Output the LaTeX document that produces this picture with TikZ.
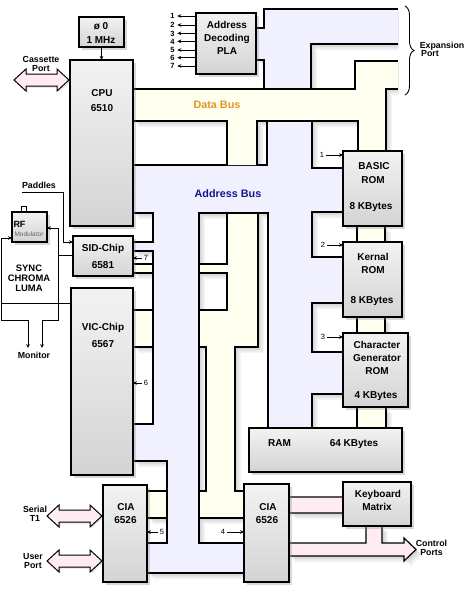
\documentclass[tikz,border=0pt]{standalone}
\usepackage{fontspec}
\setmainfont{Liberation Sans}
\usetikzlibrary{arrows.meta,shadows,decorations.pathreplacing,calc}
\definecolor{addr}{RGB}{240,240,255}
\definecolor{dbus}{RGB}{255,255,240}
\definecolor{pinkf}{RGB}{255,236,240}
\definecolor{dbtxt}{RGB}{224,150,40}
\definecolor{abtxt}{RGB}{20,20,140}
\tikzset{
 ln/.style={line width=1.2pt, line join=miter},
 thinln/.style={line width=0.9pt},
 chip/.style={draw, line width=1.2pt, top color=black!5, bottom color=black!17, inner sep=0pt, outer sep=0pt,
   drop shadow={shadow xshift=2.5pt,shadow yshift=-2.5pt,opacity=.3}},
 lbl/.style={font=\bfseries\fontsize{10}{12}\selectfont, inner sep=0pt, text height=7.2pt, text depth=0pt},
 sml/.style={font=\bfseries\fontsize{8.8}{10}\selectfont, inner sep=0pt, text height=6.3pt, text depth=0pt},
 num/.style={font=\fontsize{7.5}{9}\selectfont, inner sep=0pt, text height=5.4pt, text depth=0pt},
 bnum/.style={font=\bfseries\fontsize{7.5}{9}\selectfont, inner sep=0pt, text height=5.4pt, text depth=0pt},
 arr/.style={thinln, -{Stealth[length=4pt,width=3.6pt]}},
 darr/.style={thinln, {Stealth[length=4pt,width=3.6pt]}-{Stealth[length=4pt,width=3.6pt]}},
 fat/.style={draw, line width=1pt, line join=miter, fill=pinkf, drop shadow={shadow xshift=1.5pt,shadow yshift=-1.5pt,opacity=.2}},
}
\newcommand\mkchip[5]{\node[chip, minimum width={#4-#2}, minimum height={#5-#3}] (#1) at ({(#2+#4)/2},{(#3+#5)/2}) {};}
\newcommand\fatarrow[4]{%
 \path[fat] (#1,#3) -- ++(12,-11) -- ++(0,5) -- (#2-12,#3-6) -- ++(0,-5) -- (#2,#3) -- ++(-12,11) -- ++(0,-5) -- (#1+12,#3+6) -- ++(0,5) -- cycle;
 \coordinate (#4) at ({(#1+#2)/2},#3);}
\def\addrmain{(133,165) -- (267,165) -- (267,121) -- (312,121) -- (312,168) -- (343,168) -- (343,212)
 -- (312,212) -- (312,257) -- (343,257) -- (343,303) -- (312,303) -- (312,352) -- (343,352) -- (343,394)
 -- (312,394) -- (312,428) -- (268,428) -- (268,213) -- (199,213) -- (199,543) -- (244,543) -- (244,573)
 -- (147,573) -- (147,543) -- (167,543) -- (167,461) -- (133,461) -- (133,424) -- (153,424) -- (153,251)
 -- (133,251) -- (133,242) -- (153,242) -- (153,213) -- (133,213) -- cycle}
\def\addrtop{(256,28) -- (264,28) -- (264,9) -- (398,9) -- (398,44) -- (311,44) -- (311,89) -- (264,89) -- (264,60) -- (256,60) -- cycle}
\def\dbmain{(133,89) -- (355,89) -- (355,61) -- (398,61) -- (398,89) -- (386,89) -- (386,151) -- (358,151)
 -- (358,121) -- (257,121) -- (257,165) -- (227,165) -- (227,121) -- (133,121) -- cycle}
\def\dbcentre{(199,264) -- (227,264) -- (227,213) -- (258,213) -- (258,347) -- (235,347) -- (235,491)
 -- (244,491) -- (244,518) -- (199,518) -- (199,491) -- (206,491) -- (206,347) -- (199,347) -- (199,310)
 -- (227,310) -- (227,273) -- (199,273) -- cycle}
\def\dbsmall{(133,264) rectangle (153,273) (133,310) rectangle (153,347) (147,491) rectangle (167,518)
 (357,226) rectangle (385,242) (357,317) rectangle (385,333) (357,407) rectangle (386,428)}
\def\pinks{(289,497) rectangle (343,513) (289,543) -- (366,543) -- (366,526) -- (382,526) -- (382,543) -- (404,543) -- (404,538)
 -- (416,549.5) -- (404,561) -- (404,556) -- (289,556) -- cycle}
\begin{document}
\begin{tikzpicture}[x=1pt,y=-1pt]
\fill[white] (0,0) rectangle (466,590);
\useasboundingbox (0,0) rectangle (466,590);

% ---------- soft shadows of the bus shapes ----------
\begin{scope}
\clip (0,0) rectangle (398.6,590);
\foreach \s in {1.5,3,4.5,6}{
  \fill[black,opacity=0.045,shift={(\s,\s)}] \addrmain;
  \fill[black,opacity=0.045,shift={(\s,\s)}] \addrtop;
  \fill[black,opacity=0.045,shift={(\s,\s)}] \dbmain;
  \fill[black,opacity=0.045,shift={(\s,\s)}] \dbcentre;
  \fill[black,opacity=0.045,shift={(\s,\s)}] \dbsmall;
}
\end{scope}
\foreach \s in {1.5,3,4.5,6}{
  \fill[black,opacity=0.045,shift={(\s,\s)}] \pinks;
}

% ---------- address bus (main) ----------
\filldraw[ln,fill=addr] \addrmain;
% ---------- address bus (top, PLA / expansion) ----------
\fill[addr] \addrtop;
\draw[ln] (256,28) -- (264,28) -- (264,9) -- (398,9);
\draw[ln] (398,44) -- (311,44) -- (311,89);
\draw[ln] (264,89) -- (264,60) -- (256,60);

% ---------- data bus ----------
\fill[dbus] \dbmain;
\draw[ln] (133,89) -- (355,89) -- (355,61) -- (398,61);
\draw[ln] (398,89) -- (386,89) -- (386,151);
\draw[ln] (358,151) -- (358,121) -- (257,121) -- (257,165);
\draw[ln] (227,165) -- (227,121) -- (133,121);
\filldraw[ln,fill=dbus] \dbcentre;
\filldraw[ln,fill=dbus] (133,264) rectangle (153,273);
\filldraw[ln,fill=dbus] (133,310) rectangle (153,347);
\filldraw[ln,fill=dbus] (147,491) rectangle (167,518);
\fill[dbus] (357,226) rectangle (385,242);
\draw[ln] (357,226) -- (357,242) (385,226) -- (385,242);
\fill[dbus] (357,317) rectangle (385,333);
\draw[ln] (357,317) -- (357,333) (385,317) -- (385,333);
\fill[dbus] (357,407) rectangle (386,428);
\draw[ln] (357,407) -- (357,428) (386,407) -- (386,428);

% ---------- keyboard / control ports ----------
\filldraw[ln,fill=pinkf] \pinks;

% ---------- RF antenna ----------
\draw[thinln,fill=white] (21,212) -- (21,206) -- (26,206) -- (26,212);

% ---------- chips ----------
\mkchip{phi}{79}{17}{124}{47}
\mkchip{cpu}{70}{60}{133}{226}
\mkchip{pla}{196}{13}{256}{74}
\mkchip{sid}{73}{236}{133}{276}
\mkchip{vic}{71}{288}{133}{475}
\mkchip{ciaa}{103}{485}{147}{582}
\mkchip{ciab}{244}{484}{289}{582}
\mkchip{basic}{343}{151}{402}{226}
\mkchip{kernal}{343}{242}{402}{317}
\mkchip{chargen}{343}{333}{408}{407}
\mkchip{ram}{249}{428}{402}{472}
\mkchip{kbd}{343}{482}{411}{526}
\mkchip{rf}{12}{212}{47}{242}

% ---------- fat port arrows ----------
\fatarrow{14}{69}{80}{cass}
\fatarrow{47}{102}{516}{serial}
\fatarrow{47}{102}{561}{user}

% ---------- labels in boxes ----------
\node[lbl] (phiA) at (101,25.5) {ø 0};
\node[lbl] (phiB) at (101,40) {1 MHz};
\node[lbl] (cpuA) at (102,92.5) {CPU};
\node[lbl] (cpuB) at (102,107.5) {6510};
\node[lbl] (plaA) at (227,25) {Address};
\node[lbl] (plaB) at (227,37.5) {Decoding};
\node[lbl] (plaC) at (227,50.5) {PLA};
\node[lbl] (sidA) at (103,248) {SID-Chip};
\node[lbl] (sidB) at (103,264.5) {6581};
\node[lbl] (vicA) at (103,326.5) {VIC-Chip};
\node[lbl] (vicB) at (103,344) {6567};
\node[lbl] (ciaaA) at (126,506.5) {CIA};
\node[lbl] (ciaaB) at (125.5,520) {6526};
\node[lbl] (ciabA) at (268,506.5) {CIA};
\node[lbl] (ciabB) at (267,520) {6526};
\node[lbl] (basicA) at (374,166) {BASIC};
\node[lbl] (basicB) at (373,179.5) {ROM};
\node[lbl] (basicC) at (371,205.5) {8 KBytes};
\node[lbl] (kernA) at (373,256.5) {Kernal};
\node[lbl] (kernB) at (373,269.5) {ROM};
\node[lbl] (kernC) at (372,300) {8 KBytes};
\node[lbl] (chA) at (377,344.5) {Character};
\node[lbl] (chB) at (377,357.5) {Generator};
\node[lbl] (chC) at (377,370.5) {ROM};
\node[lbl] (chD) at (376,395) {4 KBytes};
\node[lbl] (ramA) at (279.5,442.5) {RAM};
\node[lbl] (ramB) at (354,442.5) {64 KBytes};
\node[lbl] (kbdA) at (378,493.5) {Keyboard};
\node[lbl] (kbdB) at (377,507) {Matrix};
\node[font=\bfseries\fontsize{9}{10}\selectfont, inner sep=0pt, text height=6.5pt, text depth=0pt] (rfA) at (19.5,224.5) {RF};
\node[font=\fontsize{6.5}{7}\selectfont, text=black!60, inner sep=0pt, text height=4.7pt, text depth=0pt] (rfB) at (29,234) {Modulator};

% ---------- bus labels ----------
\node[font=\bfseries\fontsize{10.8}{12}\selectfont, text=dbtxt, inner sep=0pt] (dbl) at (217,105) {Data Bus};
\node[font=\bfseries\fontsize{10.8}{12}\selectfont, text=abtxt, inner sep=0pt] (abl) at (228,194) {Address Bus};

% ---------- outside labels ----------
\node[sml] (cassA) at (41,59.5) {Cassette};
\node[sml] (cassB) at (41,68) {Port};
\node[sml] (expA) at (442,45) {Expansion};
\node[sml] (expB) at (430,53.5) {Port};
\node[sml] (pad) at (39,185) {Paddles};
\node[sml,font=\bfseries\fontsize{9.4}{10}\selectfont] (syncA) at (29,268) {SYNC};
\node[sml,font=\bfseries\fontsize{9.4}{10}\selectfont] (syncB) at (29,278) {CHROMA};
\node[sml,font=\bfseries\fontsize{9.4}{10}\selectfont] (syncC) at (29,288) {LUMA};
\node[sml] (mon) at (34,355.5) {Monitor};
\node[sml] (serA) at (35,509) {Serial};
\node[sml] (serB) at (35,518) {T1};
\node[sml] (usrA) at (33,556) {User};
\node[sml] (usrB) at (33,565.5) {Port};
\node[sml] (ctlA) at (431.5,543) {Control};
\node[sml] (ctlB) at (431.5,552) {Ports};

% ---------- expansion brace ----------
\draw[thinln, decorate, decoration={brace, amplitude=9pt}] (405,6) -- (405,95);

% ---------- clock ----------
\draw[arr] (phi.south) -- (cpu.north -| phi.south);

% ---------- PLA select lines ----------
\foreach \i/\yy in {1/16,2/25,3/33.3,4/41.3,5/50,6/57.7,7/66}{
  \node[bnum] (p\i) at (172.5,\yy) {\i};
  \draw[arr, shorten >=2.5pt] (pla.west |- p\i) -- (p\i.east);
}

% ---------- chip select numbers ----------
\node[num] (n1) at (322,155) {1};
\draw[arr, shorten <=2pt] (n1.east) -- (basic.west |- n1);
\node[num] (n2) at (323,245) {2};
\draw[arr, shorten <=2pt] (n2.east) -- (kernal.west |- n2);
\node[num] (n3) at (323,337) {3};
\draw[arr, shorten <=2pt] (n3.east) -- (chargen.west |- n3);
\node[num] (n4) at (223,532) {4};
\draw[arr, shorten <=2pt] (n4.east) -- (ciab.west |- n4);
\node[num] (n5) at (162,532) {5};
\draw[arr, shorten <=1.5pt] (n5.west) -- (ciaa.east |- n5);
\node[num] (n6) at (146,383) {6};
\draw[arr, shorten <=1.5pt] (n6.west) -- (vic.east |- n6);
\node[num] (n7) at (146,258) {7};
\draw[arr, shorten <=1.5pt] (n7.west) -- (sid.east |- n7);

% ---------- video / paddles wiring ----------
\coordinate (padS) at (22,192);
\coordinate (padC) at (63,192);
\coordinate (padD) at (63,242);
\draw[arr] (padS) -- (padC) -- (padD) -- (sid.west |- padD);
\coordinate (sidJ) at (58,255);
\coordinate (rfR) at (58,228);
\coordinate (monR) at (58,320);
\coordinate (monRb) at (42,320);
\coordinate (monRt) at (42,348);
\draw[thinln] (sid.west |- sidJ) -- (sidJ);
\draw[darr] (rf.east |- rfR) -- (rfR) -- (monR) -- (monRb) -- (monRt);
\coordinate (vicJ) at (1,303);
\coordinate (rfL) at (1,238);
\coordinate (monL) at (1,320);
\coordinate (monLb) at (28,320);
\coordinate (monLt) at (28,348);
\draw[thinln] (vic.west |- vicJ) -- (vicJ);
\draw[darr] (rf.west |- rfL) -- (rfL) -- (monL) -- (monLb) -- (monLt);
\end{tikzpicture}
\end{document}
